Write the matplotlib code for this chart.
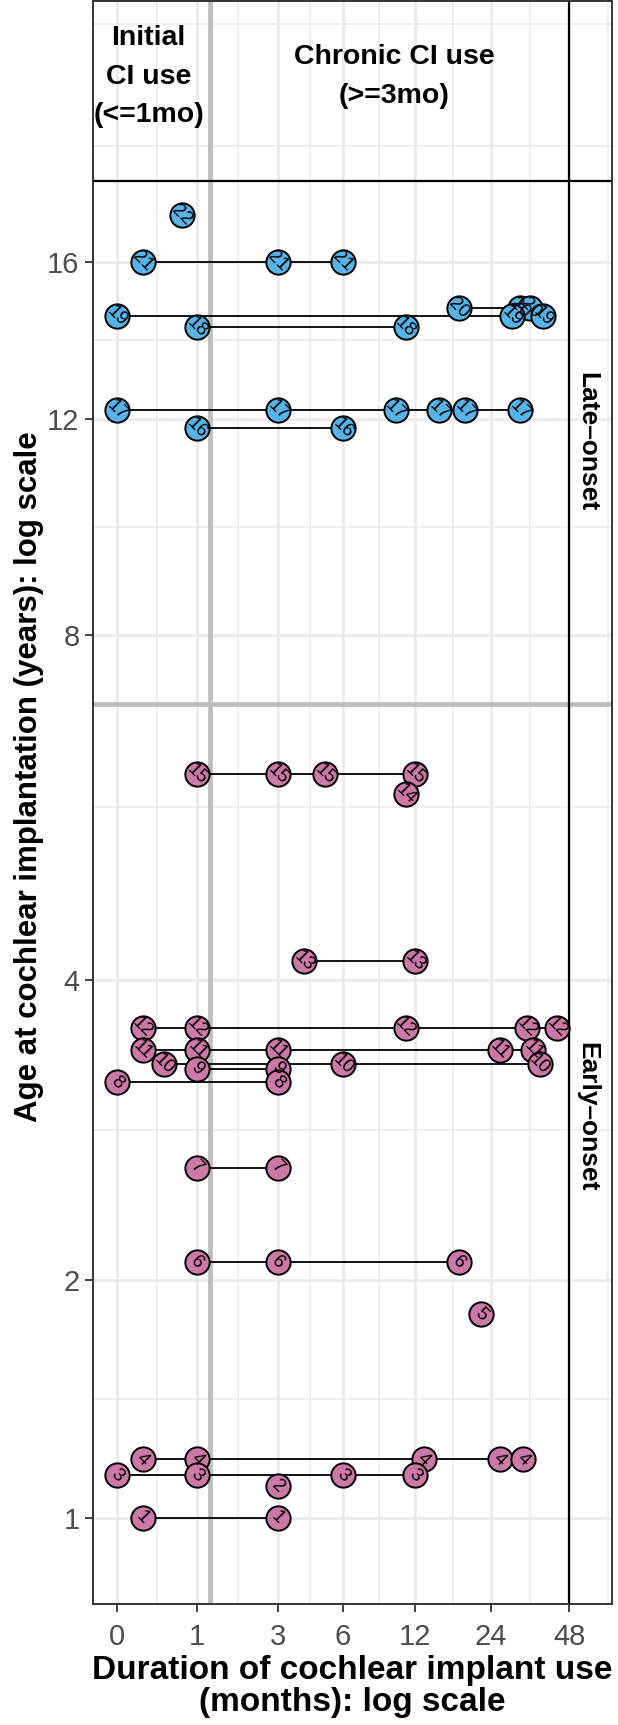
import numpy as np
import matplotlib.pyplot as plt
from matplotlib.ticker import FixedLocator, FixedFormatter, NullFormatter

plt.rcParams['font.family'] = ['Liberation Sans', 'DejaVu Sans']

# one row per participant: id, onset group, age at implantation (years),
# test points (months of CI use)
ids = [22, 21, 20, 19, 18, 17, 16, 15, 14, 13, 12, 11, 10, 9, 8, 7, 6, 5, 4, 3, 2, 1]
onset = ['Late'] * 7 + ['Early'] * 15
age_years = [17.4, 16.0, 14.7, 14.5, 14.2, 12.2, 11.8,
             6.1, 5.86, 4.16, 3.61, 3.44, 3.33, 3.30, 3.20, 2.63, 2.09, 1.83, 1.21, 1.15, 1.11, 1.0]
months = [[0.75], [0.25, 3, 6], [18, 31, 34], [0, 29, 38], [1, 11], [0, 3, 10, 15, 19, 31], [1, 6],
          [1, 3, 5, 12], [11], [4, 12], [0.25, 1, 11, 33, 43], [0.25, 1, 3, 26, 35], [0.5, 6, 37],
          [1, 3], [0, 3], [1, 3], [1, 3, 18], [22], [0.25, 1, 13, 26, 32], [0, 1, 6, 12], [3], [0.25, 3]]

x_breaks = [0, 1, 3, 6, 12, 24, 48]
y_breaks = [1, 2, 4, 8, 12, 16]
onset_colors = {'Late': '#56B4E9', 'Early': '#CC79A7'}


def fwd(v):
    return np.log(np.clip(np.asarray(v, dtype=float) + 1, 1e-9, None))


def inv(v):
    return np.exp(np.asarray(v, dtype=float)) - 1


def mids(b, extra_hi=True):
    t = list(fwd(b))
    if extra_hi:
        t.append(t[-1] + (t[-1] - t[-2]))
    return list(inv([(t[i] + t[i + 1]) / 2 for i in range(len(t) - 1)]))


fig = plt.figure(figsize=(6.18, 17.25), dpi=100)
ax = fig.add_axes([92.7 / 618, 1 - 1604 / 1725, 519 / 618, 1603 / 1725])
ax.set_xscale('function', functions=(fwd, inv))
ax.set_yscale('function', functions=(fwd, inv))
ax.set_xlim(-0.1866, 69.6)
ax.set_ylim(0.727, 25.5)

ax.xaxis.set_major_locator(FixedLocator(x_breaks))
ax.xaxis.set_major_formatter(FixedFormatter([str(b) for b in x_breaks]))
ax.xaxis.set_minor_locator(FixedLocator(mids(x_breaks)))
ax.xaxis.set_minor_formatter(NullFormatter())
ax.yaxis.set_major_locator(FixedLocator(y_breaks))
ax.yaxis.set_major_formatter(FixedFormatter([str(b) for b in y_breaks]))
ax.yaxis.set_minor_locator(FixedLocator(mids(y_breaks, False) + [19.7, 24.5]))
ax.yaxis.set_minor_formatter(NullFormatter())

ax.grid(which='major', color='#EBEBEB', lw=2.0)
ax.grid(which='minor', color='#EBEBEB', lw=1.1)
ax.set_axisbelow(True)
for s in ax.spines.values():
    s.set_color('#333333')
    s.set_linewidth(1.4)
ax.tick_params(which='major', length=5.5, width=1.3, color='#333333',
               labelsize=21, labelcolor='#4D4D4D', pad=4)
ax.tick_params(axis='x', which='major', pad=8)
ax.tick_params(which='minor', length=0)

# reference lines
ax.axvline(1.225, color='#BEBEBE', lw=3.4, zorder=1.5)
ax.axhline(7, color='#BEBEBE', lw=3.4, zorder=1.5)
ax.axvline(48, color='black', lw=1.6, zorder=1.6)
ax.axhline(18.5, color='black', lw=1.6, zorder=1.6)

for pid, grp, a, m in zip(ids, onset, age_years, months):
    if len(m) > 1:
        ax.plot(m, [a] * len(m), color='black', lw=1.3, zorder=3)
for pid, grp, a, m in zip(ids, onset, age_years, months):
    ax.plot(m, [a] * len(m), 'o', ms=17.5, mfc=onset_colors[grp], mec='black', mew=1.4, zorder=4)
for pid, grp, a, m in zip(ids, onset, age_years, months):
    for x in m:
        ax.text(x, a, str(pid), rotation=-45, rotation_mode='anchor', ha='center', va='center',
                fontsize=13.5, zorder=5)

ax.text(0.317, 22.3, 'Initial\nCI use\n(<=1mo)', ha='center', va='center', fontsize=20.5,
        fontweight='bold', linespacing=1.62)
ax.text(9.9, 22.3, 'Chronic CI use\n(>=3mo)', ha='center', va='center', fontsize=20.5,
        fontweight='bold', linespacing=1.62)
ax.text(56.3, 11.5, 'Late–onset', rotation=-90, ha='center', va='center', fontsize=19,
        fontweight='bold')
ax.text(56.3, 2.96, 'Early–onset', rotation=-90, ha='center', va='center', fontsize=19,
        fontweight='bold')

ax.set_xlabel('Duration of cochlear implant use\n(months): log scale', fontsize=24,
              fontweight='bold', linespacing=1.05, labelpad=3)
ax.set_ylabel('Age at cochlear implantation (years): log scale', fontsize=22.5, fontweight='bold')
ax.yaxis.set_label_coords(-0.094, 0.516)

fig.savefig('out.png', dpi=100)
